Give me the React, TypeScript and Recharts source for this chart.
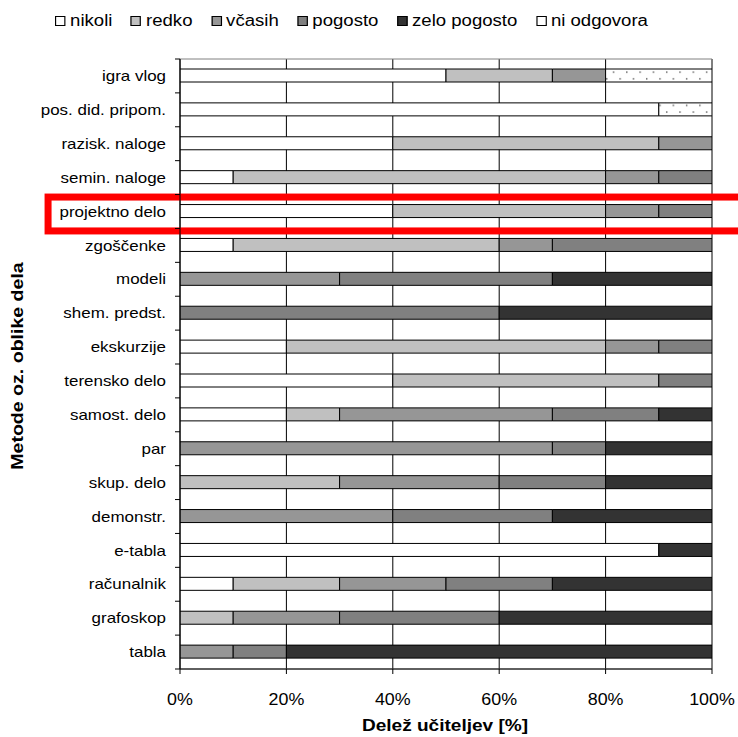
import React from 'react';
import { BarChart, Bar, XAxis, YAxis, CartesianGrid, ReferenceArea } from 'recharts';

// categories, top to bottom
const categories = [
  'igra vlog', 'pos. did. pripom.', 'razisk. naloge', 'semin. naloge', 'projektno delo',
  'zgoščenke', 'modeli', 'shem. predst.', 'ekskurzije', 'terensko delo', 'samost. delo',
  'par', 'skup. delo', 'demonstr.', 'e-tabla', 'računalnik', 'grafoskop', 'tabla',
];

// share of teachers [%] per answer
const nikoli = [50, 90, 40, 10, 40, 10, 0, 0, 20, 40, 20, 0, 0, 0, 90, 10, 0, 0];
const redko = [20, 0, 50, 70, 40, 50, 0, 0, 60, 50, 10, 0, 30, 0, 0, 20, 10, 0];
const vcasih = [10, 0, 10, 10, 10, 10, 30, 0, 10, 0, 40, 70, 30, 40, 0, 20, 20, 10];
const pogosto = [0, 0, 0, 10, 10, 30, 40, 60, 10, 10, 20, 10, 20, 30, 0, 20, 30, 10];
const zeloPogosto = [0, 0, 0, 0, 0, 0, 30, 40, 0, 0, 10, 20, 20, 30, 10, 30, 40, 80];
const niOdgovora = [20, 10, 0, 0, 0, 0, 0, 0, 0, 0, 0, 0, 0, 0, 0, 0, 0, 0];

const seriesKeys = ['nikoli', 'redko', 'vcasih', 'pogosto', 'zelo', 'ni'];
const seriesNames = ['nikoli', 'redko', 'včasih', 'pogosto', 'zelo pogosto', 'ni odgovora'];
const seriesFills = ['#ffffff', '#c0c0c0', '#969696', '#808080', '#333333', 'url(#dots)'];
const xTicks = [0, 20, 40, 60, 80, 100];

const data = categories.map((name, i) => ({
  name,
  nikoli: nikoli[i],
  redko: redko[i],
  vcasih: vcasih[i],
  pogosto: pogosto[i],
  zelo: zeloPogosto[i],
  ni: niOdgovora[i],
}));

const W = 738;
const H = 737;
const plotTop = 59;
const plotBottom = 669;
const band = (plotBottom - plotTop) / categories.length;
const font = 'Arial, "Liberation Sans", sans-serif';

const CategoryTick = (props: any) => {
  const { x, y, payload, index } = props;
  const ax = x + 14;
  return (
    <g>
      <line x1={ax - 5} x2={ax} y1={y - band / 2} y2={y - band / 2} stroke="#000" />
      {index === categories.length - 1 && (
        <line x1={ax - 5} x2={ax} y1={y + band / 2} y2={y + band / 2} stroke="#000" />
      )}
      <text
        transform={`translate(${x},${y}) scale(1.13,1)`}
        textAnchor="end"
        dominantBaseline="central"
        fontSize={15}
        fontFamily={font}
        fill="#000"
      >
        {payload.value}
      </text>
    </g>
  );
};

const PercentTick = (props: any) => {
  const { x, y, payload } = props;
  return (
    <text
      transform={`translate(${x},${y}) scale(1.05,1)`}
      textAnchor="middle"
      dy={12}
      fontSize={17}
      fontFamily={font}
      fill="#000"
    >
      {payload.value}%
    </text>
  );
};

const redBox = (p: any) => (
  <rect x={p.x} y={p.y + 2.5} width={p.width} height={p.height} fill="none" stroke="#ff0000" strokeWidth={7} />
);

export default function App() {
  return (
    <div style={{ position: 'absolute', left: 0, top: 0, width: W, height: H, background: '#fff', fontFamily: font }}>
      <svg width={0} height={0} style={{ position: 'absolute' }}>
        <defs>
          <pattern id="dots" patternUnits="userSpaceOnUse" width={13.3} height={13.3}>
            <rect width={13.3} height={13.3} fill="#fff" />
            <rect x={1} y={5} width={1.4} height={1.4} fill="#555" />
            <rect x={7.6} y={11.6} width={1.4} height={1.4} fill="#555" />
          </pattern>
        </defs>
      </svg>

      <div
        style={{
          position: 'absolute',
          left: 55,
          top: 11,
          display: 'flex',
          alignItems: 'center',
          whiteSpace: 'nowrap',
          transform: 'scaleX(1.16)',
          transformOrigin: 'left center',
          fontSize: 16,
          lineHeight: '20px',
          color: '#000',
        }}
      >
        {seriesNames.map((n, i) => (
          <span key={n} style={{ display: 'flex', alignItems: 'center', marginRight: 16 }}>
            <span
              style={{
                display: 'inline-block',
                width: 7,
                height: 8,
                border: '1px solid #000',
                background: seriesFills[i].startsWith('url') ? '#fff' : seriesFills[i],
                marginRight: 4,
              }}
            />
            {n}
          </span>
        ))}
      </div>

      <BarChart
        width={W}
        height={H}
        data={data}
        layout="vertical"
        barSize={13}
        margin={{ top: plotTop, right: 26, bottom: H - plotBottom - 40, left: 30 }}
      >
        <CartesianGrid horizontal={false} stroke="#000" />
        <ReferenceArea x1={0} x2={100} stroke="#808080" fill="none" />
        <XAxis
          type="number"
          domain={[0, 100]}
          ticks={xTicks}
          height={40}
          tick={<PercentTick />}
          tickSize={5}
          tickMargin={19}
          stroke="#000"
          allowDataOverflow
        />
        <YAxis
          type="category"
          dataKey="name"
          width={150}
          tick={<CategoryTick />}
          tickLine={false}
          tickSize={5}
          tickMargin={9}
          interval={0}
          stroke="#000"
        />
        {seriesKeys.map((k, i) => (
          <Bar
            key={k}
            dataKey={k}
            name={seriesNames[i]}
            stackId="a"
            fill={seriesFills[i]}
            stroke="#000"
            strokeWidth={1}
            isAnimationActive={false}
          />
        ))}
        <ReferenceArea
          y1="projektno delo"
          y2="projektno delo"
          x1={-24.8}
          x2={112}
          ifOverflow="visible"
          shape={redBox}
        />
      </BarChart>

      <div
        style={{
          position: 'absolute',
          left: 445,
          top: 716,
          transform: 'translateX(-50%) scaleX(1.12)',
          fontSize: 17,
          fontWeight: 'bold',
          whiteSpace: 'nowrap',
          color: '#000',
        }}
      >
        Delež učiteljev [%]
      </div>
      <div
        style={{
          position: 'absolute',
          left: 18,
          top: 366,
          transform: 'translate(-50%,-50%) rotate(-90deg) scaleX(1.15)',
          fontSize: 17,
          fontWeight: 'bold',
          whiteSpace: 'nowrap',
          color: '#000',
        }}
      >
        Metode oz. oblike dela
      </div>
    </div>
  );
}
